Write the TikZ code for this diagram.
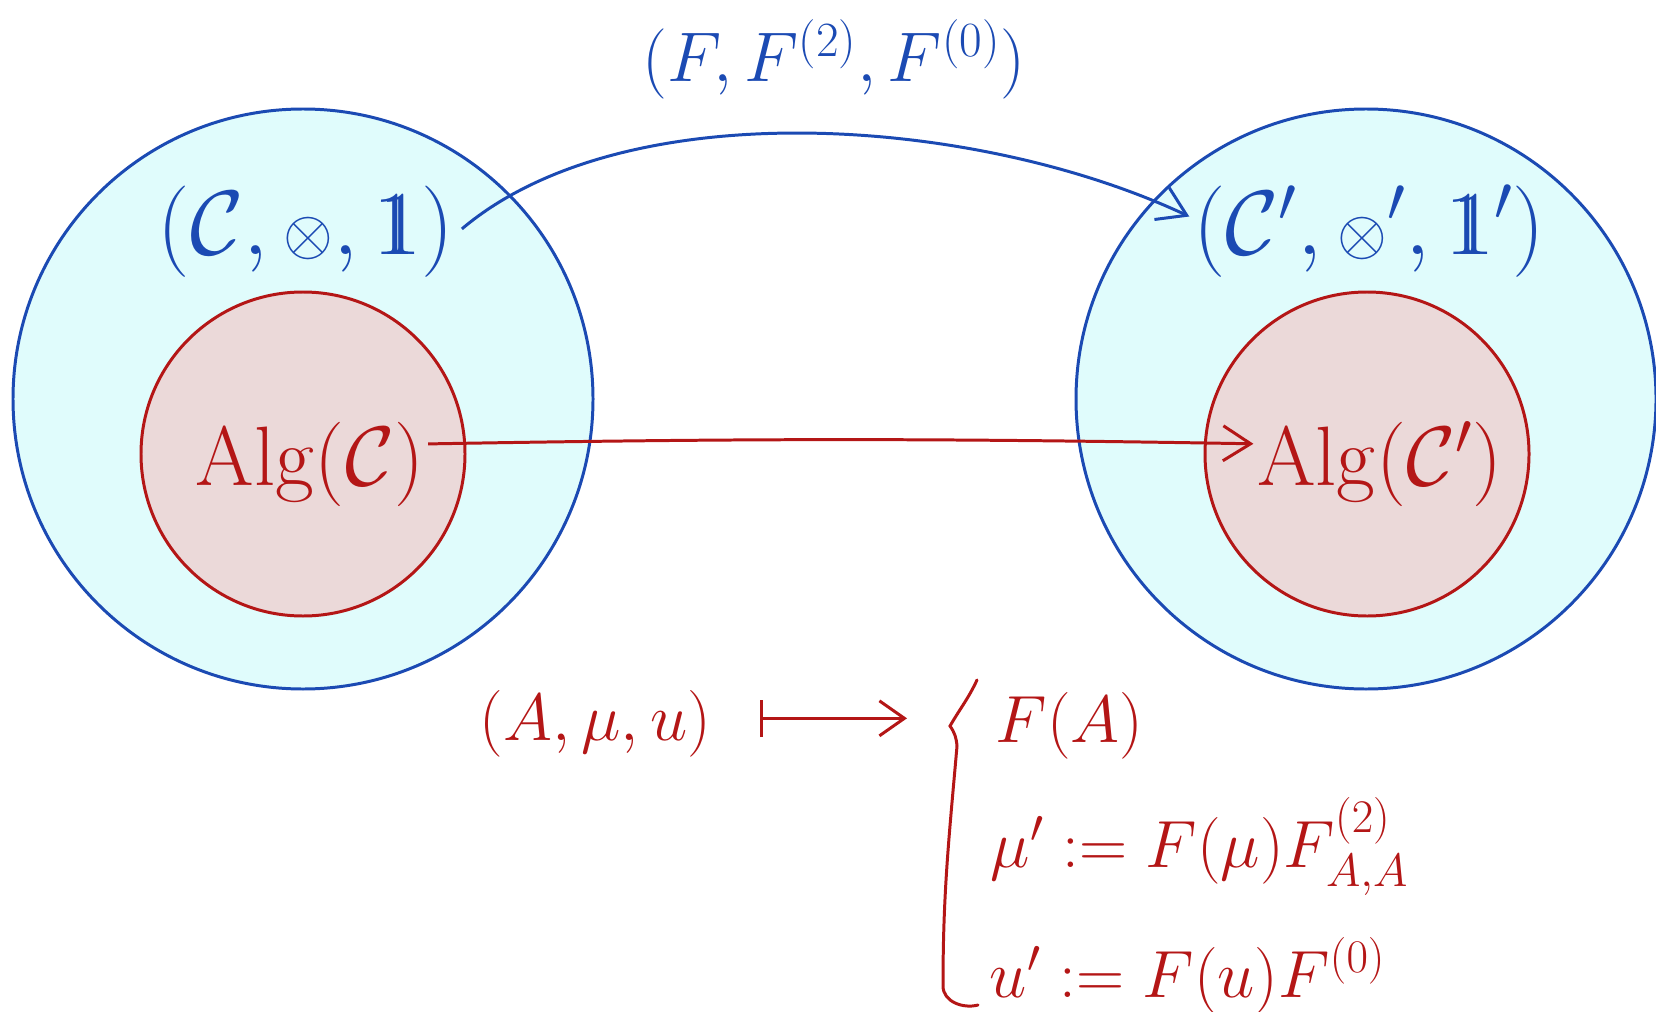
\RequirePackage{fix-cm}
\documentclass[tikz,border=0pt]{standalone}
\usepackage{amsmath,amssymb}
\usepackage{xcolor}
\usepackage{tikz}
\usetikzlibrary{arrows.meta}
\definecolor{bleu}{RGB}{27,74,179}
\definecolor{rouge}{RGB}{180,22,22}
\definecolor{cyanf}{RGB}{224,252,252}
\definecolor{rosef}{RGB}{235,217,217}
\newcommand{\unobj}{\mathrm{1\mkern-7mu1}}
\newcommand{\tens}{\mathord{\scriptstyle\otimes}}

\begin{document}
\begin{tikzpicture}[x=1cm, y=1cm,
  cat/.style={circle, draw=bleu, fill=cyanf, line width=1.7pt, minimum size=11.6cm, inner sep=0pt},
  alg/.style={circle, draw=rouge, fill=rosef, line width=1.7pt, minimum size=6.48cm, inner sep=0pt},
  tb/.style={text=bleu, inner sep=2pt, font=\fontsize{52}{60}\selectfont},
  ta/.style={text=rouge, inner sep=2pt, font=\fontsize{48}{58}\selectfont},
  tr/.style={text=rouge, inner sep=2pt, font=\fontsize{38}{46}\selectfont},
  fl/.style={-{Straight Barb[length=5.5mm, width=7mm]}, line width=1.7pt}]

\useasboundingbox (0,0) rectangle (33.12,20.22);

% ── les deux catégories ──
\node[cat] (catL) at (6.06,12.24) {};
\node[cat] (catR) at (27.32,12.24) {};
\node[alg] (algL) at (6.06,11.14) {};
\node[alg] (algR) at (27.34,11.14) {};

\node[tb, anchor=base] (monL) at (6.12,15.12) {$(\mathcal{C},\tens,\unobj)$};
\node[tb, anchor=base] (monR) at (27.38,15.12) {$(\mathcal{C}',\tens',\unobj')$};
\node[ta, anchor=base] (txtL) at (6.2,10.52) {$\mathrm{Alg}(\mathcal{C})$};
\node[ta, anchor=base] (txtR) at (27.6,10.52) {$\mathrm{Alg}(\mathcal{C}')$};

% ── le foncteur ──
\node[tb, font=\fontsize{40}{48}\selectfont, anchor=base] (fonct) at (16.68,18.58) {$(F,F^{(2)},F^{(0)})$};
\draw[fl, draw=bleu, shorten <=1mm] (monL.east) .. controls (12.5,18.4) and (19.5,17.9) .. ([yshift=3mm]monR.west);
\draw[fl, draw=rouge] ([yshift=4mm]txtL.east) to[bend left=1] ([yshift=4mm]txtR.west);

% ── sur les objets ──
\node[tr, anchor=base] (obj) at (11.91,5.42) {$(A,\mu,u)$};
\node[tr, anchor=base west] (objF) at (19.84,5.38) {$F(A)$};
\node[tr, anchor=base west] (mulin) at (19.74,2.88) {$\mu' := F(\mu)F^{(2)}_{A,A}$};
\node[tr, anchor=base west] (unlin) at (19.72,0.28) {$u' := F(u)F^{(0)}$};
\draw[{Bar[width=7.5mm]}-{Straight Barb[length=5mm, width=7mm]}, line width=1.7pt, draw=rouge,
  shorten <=9mm, shorten >=17mm] ([yshift=1mm]obj.east) -- ([yshift=1mm]obj.east -| objF.west);
\draw[rouge, line width=1.7pt, line cap=round]
  (19.54,6.62) to[out=-115,in=60] (19.0,5.7) to[out=-55,in=95] (19.14,5.3)
  to[out=-95,in=90] (18.86,0.5) to[out=-90,in=195] (19.56,0.12);

\end{tikzpicture}
\end{document}
